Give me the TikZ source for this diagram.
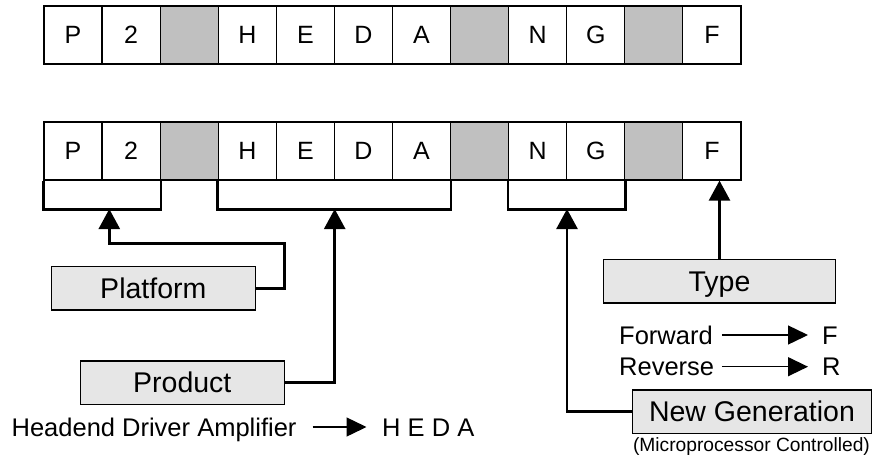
\documentclass[tikz,border=0pt]{standalone}
\usepackage{fontspec}
\setmainfont{Liberation Sans}
\usetikzlibrary{arrows.meta}
\definecolor{cellgray}{RGB}{192,192,192}
\definecolor{boxgray}{RGB}{230,230,230}
\begin{document}
\begin{tikzpicture}[x=1pt,y=1pt,
  cell/.style={draw=black,line width=1.2pt,minimum width=58.08pt,minimum height=58pt,inner sep=0pt,
    font=\fontsize{25}{27}\selectfont,text height=17.9pt,text depth=0pt},
  blank/.style={cell,fill=cellgray},
  label/.style={draw=black,line width=1.2pt,fill=boxgray,minimum height=43.5pt,inner sep=0pt,
    font=\fontsize{28.5}{30}\selectfont,text height=20.4pt,text depth=0pt},
  txt/.style={inner sep=0pt,font=\fontsize{25.5}{27}\selectfont,text height=18.3pt,text depth=0pt},
  brk/.style={line width=2.5pt},
  arr/.style={line width=2.5pt,-{Triangle[length=20pt,width=21pt]}},
  sarr/.style={line width=1.4pt,-{Triangle[length=20pt,width=19pt]}}]
\useasboundingbox (0,0) rectangle (877,-464);
% rows of cells
\foreach \r/\y in {t/-35,b/-151}{
  \foreach \i/\l/\s in {1/P/cell,2/2/cell,3/{}/blank,4/H/cell,5/E/cell,6/D/cell,7/A/cell,8/{}/blank,9/N/cell,10/G/cell,11/{}/blank,12/F/cell}{
    \node[\s] (\r\i) at ({44+(\i-0.5)*58.08},\y) {\l};
  }
}
% brackets
\draw[brk] (b1.south west) -- ++(0,-29) -| (b2.south east);
\draw[brk] (b4.south west) -- ++(0,-29) -| (b7.south east);
\draw[brk] (b9.south west) -- ++(0,-29) -| (b10.south east);
\coordinate (a1) at (109.3,-209);
\coordinate (k1) at (284.3,-243.3);
\coordinate (a2) at (334.7,-209);
\coordinate (a3) at (567,-209);
% label boxes
\node[label,minimum width=204pt] (plat) at (153.3,-288.3) {Platform};
\node[label,minimum width=204pt] (prod) at (182.3,-382.7) {Product};
\node[label,minimum width=232.4pt] (type) at (719.5,-281.3) {Type};
\node[label,minimum width=239.4pt] (ng) at (752,-411.7) {New Generation};
% connectors
\draw[arr] (plat.east) -| (k1) -| (a1);
\draw[arr] (prod.east) -| (a2);
\draw[arr] (ng.west) -| (a3);
\draw[arr] (type.north) -- (type.north |- b12.south);
% descriptions
\node[txt,anchor=east] (hda) at (296.7,-427) {Headend Driver Amplifier};
\node[txt,anchor=west] (heda) at (382,-427) {H E D A};
\draw[sarr] ([xshift=16pt]hda.east) -- ([xshift=-15.5pt]heda.west);
\node[txt,anchor=west] (fw) at (619,-335) {Forward};
\node[txt,anchor=west] (fl) at (822,-335) {F};
\draw[sarr] (fw.east) ++(9,0) coordinate (fs) (fs) -- ([xshift=-14pt]fl.west);
\node[txt,anchor=west] (rv) at (619,-366.7) {Reverse};
\node[txt,anchor=west] (rl) at (822,-366.7) {R};
\draw[sarr] (fs |- rv.east) -- ([xshift=-14pt]rl.west);
\node[inner sep=0pt,font=\fontsize{19.2}{21}\selectfont] (mc) at (751.5,-446.7) {(Microprocessor Controlled)};
\end{tikzpicture}
\end{document}
